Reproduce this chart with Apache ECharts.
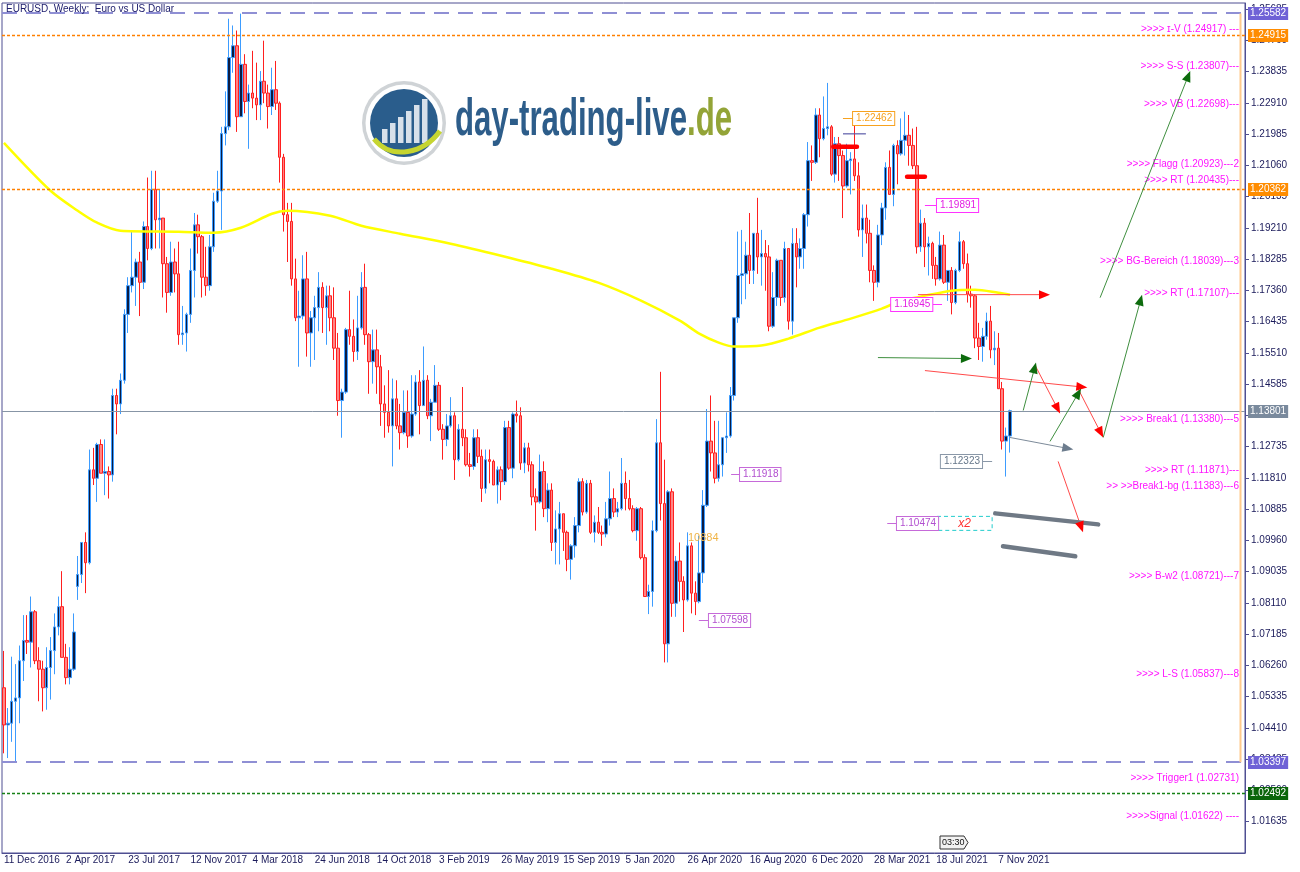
<!DOCTYPE html>
<html><head><meta charset="utf-8">
<script src="https://cdn.jsdelivr.net/npm/echarts/dist/echarts.min.js"></script>
<style>html,body{margin:0;padding:0;background:#fff}#c{width:1300px;height:872px}</style>
</head><body><div id="c"></div>
<script>
// ---------- DATA ----------
const tickLabels = ['11 Dec 2016','2 Apr 2017','23 Jul 2017','12 Nov 2017','4 Mar 2018','24 Jun 2018','14 Oct 2018','3 Feb 2019','26 May 2019','15 Sep 2019','5 Jan 2020','26 Apr 2020','16 Aug 2020','6 Dec 2020','28 Mar 2021','18 Jul 2021','7 Nov 2021'];
// weekly candles [open, high, low, close]
const candles2016 = [
[1.0560,1.0669,1.0366,1.0450],[1.0450,1.0500,1.0352,1.0455],[1.0455,1.0652,1.0400,1.0520]];
const candles2017 = [
[1.0520,1.0630,1.0340,1.0530],[1.0530,1.0685,1.0455,1.0640],[1.0640,1.0775,1.0580,1.0700],[1.0700,1.0775,1.0660,1.0695],[1.0695,1.0830,1.0620,1.0785],
[1.0785,1.0790,1.0630,1.0640],[1.0640,1.0680,1.0520,1.0615],[1.0615,1.0640,1.0490,1.0560],[1.0560,1.0680,1.0495,1.0620],
[1.0620,1.0710,1.0525,1.0670],[1.0670,1.0780,1.0600,1.0740],[1.0740,1.0830,1.0715,1.0800],[1.0800,1.0905,1.0650,1.0650],
[1.0650,1.0690,1.0570,1.0590],[1.0590,1.0680,1.0570,1.0615],[1.0615,1.0780,1.0610,1.0725],[1.0860,1.0950,1.0820,1.0895],[1.0895,1.0990,1.0870,1.0990],
[1.0990,1.1020,1.0840,1.0930],[1.0930,1.1265,1.0925,1.1205],[1.1205,1.1270,1.1160,1.1180],[1.1180,1.1285,1.1110,1.1280],
[1.1280,1.1295,1.1195,1.1195],[1.1195,1.1295,1.1130,1.1200],[1.1200,1.1215,1.1120,1.1190],[1.1190,1.1445,1.1170,1.1425],
[1.1425,1.1445,1.1310,1.1400],[1.1400,1.1490,1.1370,1.1470],[1.1470,1.1680,1.1460,1.1665],[1.1665,1.1775,1.1610,1.1750],[1.1750,1.1910,1.1730,1.1775],
[1.1775,1.1830,1.1690,1.1820],[1.1820,1.1850,1.1660,1.1760],[1.1760,1.1940,1.1740,1.1925],[1.1925,1.2070,1.1825,1.1860],
[1.1860,1.2090,1.1855,1.2035],[1.2035,1.2090,1.1860,1.1945],[1.1945,1.2035,1.1860,1.1950],[1.1950,1.1950,1.1715,1.1815],
[1.1815,1.1835,1.1670,1.1730],[1.1730,1.1880,1.1720,1.1820],[1.1820,1.1860,1.1730,1.1785],[1.1785,1.1880,1.1575,1.1605],[1.1605,1.1690,1.1575,1.1610],
[1.1610,1.1670,1.1555,1.1665],[1.1665,1.1860,1.1640,1.1795],[1.1795,1.1965,1.1715,1.1930],[1.1930,1.1960,1.1845,1.1895],
[1.1895,1.1900,1.1715,1.1775],[1.1775,1.1865,1.1720,1.1750],[1.1750,1.1900,1.1735,1.1865],[1.1865,1.2025,1.1850,1.2000]];
const candles2018 = [
[1.2000,1.2090,1.1995,1.2030],[1.2030,1.2220,1.1915,1.2200],[1.2200,1.2325,1.2165,1.2220],[1.2220,1.2540,1.2210,1.2425],[1.2425,1.2520,1.2380,1.2460],
[1.2460,1.2505,1.2205,1.2250],[1.2250,1.2555,1.2250,1.2405],[1.2405,1.2435,1.2260,1.2295],[1.2295,1.2345,1.2155,1.2320],
[1.2320,1.2445,1.2275,1.2305],[1.2305,1.2410,1.2240,1.2285],[1.2285,1.2385,1.2240,1.2355],[1.2355,1.2475,1.2290,1.2320],
[1.2320,1.2345,1.2215,1.2280],[1.2280,1.2395,1.2255,1.2330],[1.2330,1.2415,1.2270,1.2290],[1.2290,1.2295,1.2055,1.2130],[1.2130,1.2140,1.1910,1.1960],
[1.1960,1.1995,1.1820,1.1940],[1.1940,1.1995,1.1750,1.1770],[1.1770,1.1830,1.1645,1.1655],[1.1655,1.1735,1.1510,1.1660],
[1.1660,1.1840,1.1650,1.1770],[1.1770,1.1850,1.1540,1.1610],[1.1610,1.1675,1.1510,1.1655],[1.1655,1.1720,1.1530,1.1685],
[1.1685,1.1790,1.1615,1.1745],[1.1745,1.1760,1.1610,1.1685],[1.1685,1.1750,1.1575,1.1720],[1.1720,1.1750,1.1615,1.1655],[1.1655,1.1745,1.1530,1.1565],
[1.1565,1.1610,1.1365,1.1410],[1.1410,1.1445,1.1300,1.1435],[1.1435,1.1625,1.1430,1.1620],[1.1620,1.1735,1.1575,1.1600],
[1.1600,1.1650,1.1525,1.1555],[1.1555,1.1720,1.1530,1.1625],[1.1625,1.1790,1.1620,1.1745],[1.1745,1.1815,1.1575,1.1605],
[1.1605,1.1610,1.1430,1.1525],[1.1525,1.1620,1.1460,1.1560],[1.1560,1.1620,1.1430,1.1510],[1.1510,1.1545,1.1335,1.1400],[1.1400,1.1455,1.1300,1.1375],
[1.1375,1.1500,1.1315,1.1335],[1.1335,1.1475,1.1215,1.1415],[1.1415,1.1470,1.1325,1.1335],[1.1335,1.1400,1.1265,1.1315],
[1.1315,1.1440,1.1310,1.1375],[1.1375,1.1440,1.1270,1.1305],[1.1305,1.1485,1.1300,1.1370],[1.1370,1.1485,1.1365,1.1465]];
const candles2019 = [
[1.1465,1.1500,1.1310,1.1395],[1.1395,1.1570,1.1395,1.1470],[1.1470,1.1485,1.1355,1.1365],[1.1365,1.1415,1.1290,1.1405],[1.1405,1.1515,1.1405,1.1455],
[1.1455,1.1465,1.1320,1.1325],[1.1325,1.1340,1.1235,1.1295],[1.1295,1.1370,1.1275,1.1335],[1.1335,1.1420,1.1330,1.1365],
[1.1365,1.1375,1.1175,1.1235],[1.1235,1.1340,1.1230,1.1325],[1.1325,1.1450,1.1275,1.1300],[1.1300,1.1325,1.1215,1.1220],
[1.1220,1.1255,1.1185,1.1215],[1.1215,1.1325,1.1205,1.1300],[1.1300,1.1325,1.1225,1.1245],[1.1245,1.1265,1.1110,1.1150],[1.1150,1.1265,1.1135,1.1235],
[1.1235,1.1265,1.1165,1.1230],[1.1230,1.1235,1.1160,1.1160],[1.1160,1.1215,1.1105,1.1205],[1.1205,1.1215,1.1115,1.1170],
[1.1170,1.1350,1.1160,1.1330],[1.1330,1.1350,1.1205,1.1210],[1.1210,1.1375,1.1180,1.1370],[1.1370,1.1410,1.1345,1.1365],
[1.1365,1.1390,1.1205,1.1225],[1.1225,1.1285,1.1195,1.1270],[1.1270,1.1285,1.1200,1.1220],[1.1220,1.1230,1.1100,1.1125],[1.1125,1.1150,1.1025,1.1110],
[1.1110,1.1250,1.1105,1.1200],[1.1200,1.1230,1.1065,1.1090],[1.1090,1.1165,1.1050,1.1145],[1.1145,1.1165,1.0965,1.0990],
[1.0990,1.1085,1.0925,1.1030],[1.1030,1.1110,1.0925,1.1075],[1.1075,1.1075,1.0965,1.1020],[1.1020,1.1025,1.0905,1.0940],[1.0940,1.0985,1.0880,1.0980],
[1.0980,1.1065,1.0945,1.1040],[1.1040,1.1180,1.1020,1.1170],[1.1170,1.1180,1.1070,1.1080],[1.1080,1.1175,1.1075,1.1165],
[1.1165,1.1175,1.1015,1.1020],[1.1020,1.1070,1.0990,1.1050],[1.1050,1.1095,1.1015,1.1020],[1.1020,1.1040,1.0980,1.1015],
[1.1015,1.1110,1.1005,1.1060],[1.1060,1.1200,1.1040,1.1120],[1.1120,1.1150,1.1065,1.1080],[1.1080,1.1110,1.1065,1.1090],[1.1090,1.1240,1.1085,1.1165]];
const candles2020 = [
[1.1165,1.1200,1.1085,1.1120],[1.1120,1.1175,1.1085,1.1090],[1.1090,1.1100,1.1020,1.1025],[1.1025,1.1095,1.0995,1.1090],
[1.1090,1.1095,1.0940,1.0945],[1.0945,1.0955,1.0830,1.0830],[1.0830,1.0865,1.0778,1.0845],[1.0845,1.1055,1.0800,1.1025],
[1.1025,1.1355,1.1020,1.1285],[1.1285,1.1495,1.1055,1.1105],[1.1105,1.1235,1.0635,1.0690],[1.0690,1.1145,1.0635,1.1140],[1.1140,1.1150,1.0770,1.0810],
[1.0810,1.0950,1.0770,1.0935],[1.0935,1.0990,1.0815,1.0875],[1.0875,1.0890,1.0725,1.0820],[1.0820,1.1020,1.0815,1.0980],
[1.0980,1.0990,1.0780,1.0840],[1.0840,1.0875,1.0775,1.0815],[1.0815,1.1010,1.0810,1.0900],[1.0900,1.1145,1.0870,1.1100],
[1.1100,1.1385,1.1095,1.1290],[1.1290,1.1425,1.1200,1.1255],[1.1255,1.1350,1.1165,1.1180],[1.1180,1.1350,1.1170,1.1220],[1.1220,1.1300,1.1185,1.1300],
[1.1300,1.1375,1.1255,1.1305],[1.1305,1.1450,1.1300,1.1425],[1.1425,1.1655,1.1410,1.1655],[1.1655,1.1910,1.1640,1.1780],
[1.1780,1.1915,1.1695,1.1785],[1.1785,1.1880,1.1710,1.1840],[1.1840,1.1965,1.1755,1.1795],[1.1795,1.1905,1.1755,1.1905],[1.1905,1.2010,1.1785,1.1835],
[1.1835,1.1915,1.1750,1.1845],[1.1845,1.1885,1.1735,1.1835],[1.1835,1.1870,1.1615,1.1630],[1.1630,1.1790,1.1625,1.1715],
[1.1715,1.1830,1.1690,1.1825],[1.1825,1.1825,1.1690,1.1715],[1.1715,1.1880,1.1700,1.1860],[1.1860,1.1860,1.1620,1.1645],
[1.1645,1.1920,1.1605,1.1875],[1.1875,1.1920,1.1745,1.1835],[1.1835,1.1890,1.1800,1.1860],[1.1860,1.1965,1.1800,1.1960],[1.1960,1.2175,1.1925,1.2120],
[1.2120,1.2165,1.2060,1.2115],[1.2115,1.2275,1.2110,1.2255],[1.2255,1.2275,1.2130,1.2185]];
const candles2021 = [
[1.2185,1.2310,1.2180,1.2215],
[1.2215,1.2350,1.2195,1.2220],[1.2220,1.2225,1.2075,1.2080],[1.2080,1.2190,1.2055,1.2170],[1.2170,1.2190,1.2060,1.2135],
[1.2135,1.2150,1.1950,1.2045],[1.2045,1.2170,1.2040,1.2120],[1.2120,1.2145,1.2020,1.2125],[1.2125,1.2245,1.2060,1.2075],
[1.2075,1.2115,1.1895,1.1915],[1.1915,1.1990,1.1835,1.1950],[1.1950,1.1990,1.1875,1.1905],[1.1905,1.1945,1.1760,1.1795],[1.1795,1.1810,1.1705,1.1760],
[1.1760,1.1930,1.1745,1.1900],[1.1900,1.1995,1.1870,1.1980],[1.1980,1.2115,1.1945,1.2100],[1.2100,1.2150,1.2020,1.2020],
[1.2020,1.2170,1.1985,1.2165],[1.2165,1.2180,1.2050,1.2140],[1.2140,1.2245,1.2135,1.2180],[1.2180,1.2265,1.2135,1.2195],[1.2195,1.2255,1.2105,1.2165],
[1.2165,1.2215,1.2095,1.2105],[1.2105,1.2220,1.1845,1.1865],[1.1865,1.1975,1.1850,1.1935],[1.1935,1.1950,1.1805,1.1865],
[1.1865,1.1895,1.1780,1.1875],[1.1875,1.1880,1.1770,1.1810],[1.1810,1.1835,1.1750,1.1770],[1.1770,1.1910,1.1765,1.1870],
[1.1870,1.1900,1.1755,1.1760],[1.1760,1.1795,1.1705,1.1795],[1.1795,1.1805,1.1665,1.1700],[1.1700,1.1800,1.1695,1.1795],[1.1795,1.1910,1.1790,1.1880],
[1.1880,1.1885,1.1800,1.1815],[1.1815,1.1845,1.1700,1.1725],[1.1725,1.1750,1.1685,1.1720],[1.1720,1.1725,1.1565,1.1595],
[1.1595,1.1640,1.1530,1.1570],[1.1570,1.1625,1.1525,1.1600],[1.1600,1.1670,1.1590,1.1645],[1.1645,1.1690,1.1535,1.1560],
[1.1560,1.1615,1.1515,1.1565],[1.1565,1.1610,1.1445,1.1445],[1.1445,1.1465,1.1265,1.1290],[1.1290,1.1330,1.1185,1.1305],[1.1305,1.1383,1.1256,1.13801]];
// yellow moving average: [week index, value]
const maPoints = [[0,1.21727],[12,1.20308],[19,1.19717],[24,1.19362],[30,1.19126],[45,1.19096],[54,1.19067],[61,1.19214],[69,1.19628],[73,1.19717],[84,1.19569],
[92,1.19273],[102,1.19037],[115,1.18741],[128,1.18387],[141,1.18002],[153,1.17589],[164,1.17057],[174,1.16465],[179,1.16081],[184,1.15815],[188,1.15697],
[195,1.15727],[202,1.15933],[210,1.16259],[218,1.16525],[226,1.16820],[231,1.17057],[236,1.17175],[244,1.17352],[250,1.17382],[256,1.17293],[259,1.17234]];
// horizontal levels with price boxes on the axis
const axisLevels = [1.25582, 1.24915, 1.20362, 1.13801, 1.03397, 1.02492];
const axisLevelKinds = ['range','alert','alert','bid','range','signal'];
// magenta level notes [price, text]
const levelNotes = [
 [1.24917,'>>>> ɪ-V (1.24917) ---'],[1.23807,'>>>> S-S (1.23807)---'],[1.22698,'>>>> VB (1.22698)---'],
 [1.20923,'>>>> Flagg (1.20923)---2'],[1.20435,'>>>> RT (1.20435)---'],[1.18039,'>>>> BG-Bereich (1.18039)---3'],
 [1.17107,'>>>> RT (1.17107)---'],[1.13380,'>>>> Break1 (1.13380)---5'],[1.11871,'>>>> RT (1.11871)---'],
 [1.11383,'>> >>Break1-bg (1.11383)---6'],[1.08721,'>>>> B-w2 (1.08721)---7'],[1.05837,'>>>> L-S (1.05837)---8'],
 [1.02731,'>>>> Trigger1 (1.02731)'],[1.01622,'>>>>Signal (1.01622) ----']];
// drawn arrows [week1, price1, week2, price2, kind]
const arrows = [
 [225.0,1.15372,249.2,1.15342,'green'],[235.3,1.17234,269.3,1.17234,'red'],[237.1,1.14987,278.9,1.14485,'red'],
 [265.5,1.15135,271.9,1.13716,'red'],[262.4,1.13805,265.7,1.15224,'green'],[269.3,1.12889,277.3,1.14455,'green'],
 [276.5,1.14455,283.0,1.13007,'red'],[283.0,1.13007,293.0,1.17234,'green'],[282.2,1.17145,305.4,1.23855,'green'],
 [259.0,1.13007,275.3,1.12652,'gray'],[271.4,1.12298,277.8,1.10199,'red']];
// drawn segments [week1, price1, week2, price2, kind]
const segments = [
 [255.2,1.10761,281.7,1.10435,'grayThick'],[257.2,1.09785,275.8,1.09490,'grayThick'],
 [213.5,1.21609,219.6,1.21609,'redThick'],[232.5,1.20722,237.1,1.20722,'redThick'],[216.0,1.21993,221.9,1.21993,'navy']];
// price tags [price, leader start week, box edge week, kind]
const priceTags = [
 [1.22462,216.0,218.6,'orange'],[1.19891,237.1,240.2,'magenta'],[1.16945,241.5,239.0,'magenta'],
 [1.12323,254.4,251.8,'gray'],[1.10474,227.4,229.9,'purple'],[1.11918,187.2,189.5,'purple'],[1.07598,178.9,181.5,'purple']];
const x2Box = [240.2,1.10672,254.4,1.10258];
const sideNote = [176.1,1.10022,'10884'];

// ---------- CHART ----------
const chart = echarts.init(document.getElementById('c'));
const candles = [].concat(candles2016,candles2017,candles2018,candles2019,candles2020,candles2021);
const N = 320;
const cats = Array.from({length:N},(_,i)=>String(i));
const tickShown = (idx) => idx % 16 === 0 && idx/16 < tickLabels.length;
const FONT = '"Liberation Sans", Arial, sans-serif';
const axisColor = '#4f4f92';
const levelStyle = {
  range:{stroke:'#8f8fd4',dash:[15,9],width:2, box:'#6f62d6'},
  alert:{stroke:'#ff8000',dash:[3,2],width:1.5, box:'#ff8c00'},
  bid:{stroke:'#8795a6',dash:null,width:1, box:'#7a8a9d'},
  signal:{stroke:'#168016',dash:[3,2],width:1.5, box:'#0b650b'}
};
const GL = 2, GR = 55, GT = 3, GB = 19;

chart.setOption({
  animation:false,
  backgroundColor:'#ffffff',
  grid:{left:GL,right:GR,top:GT,bottom:GB,show:true,borderColor:axisColor,borderWidth:1},
  xAxis:{type:'category',data:cats,boundaryGap:true,
    axisLine:{lineStyle:{color:axisColor}},
    axisTick:{alignWithLabel:true,interval:tickShown,length:4,lineStyle:{color:axisColor}},
    axisLabel:{interval:tickShown,formatter:(v,i)=>tickLabels[i/16]||'',align:'left',color:'#1a1a5a',fontSize:10,fontFamily:FONT,margin:2},
    splitLine:{show:false}},
  yAxis:{type:'value',position:'right',min:1.00710,max:1.25865,interval:0.00925,
    axisLine:{show:true,lineStyle:{color:axisColor}},
    axisTick:{show:true,length:4,lineStyle:{color:axisColor}},
    axisLabel:{formatter:v=>v.toFixed(5),color:'#1a1a5a',fontSize:10,fontFamily:FONT,margin:6,showMinLabel:false,showMaxLabel:false},
    splitLine:{show:false}},
  series:[
    {type:'candlestick',name:'EURUSD',barWidth:3,z:2,
     data:candles.map(c=>[c[0],c[3],c[2],c[1]]),
     itemStyle:{color:'#0c1c42',color0:'#ff8585',borderColor:'#3d9cff',borderColor0:'#ff1f1f',borderWidth:1},
     emphasis:{disabled:true}},
    {type:'line',name:'MA',data:maPoints,symbol:'none',smooth:0.3,z:3,lineStyle:{color:'#ffff00',width:2.5},silent:true}
  ]
});

// ---------- ANNOTATIONS (through the chart's own scales) ----------
const x0 = chart.convertToPixel({xAxisIndex:0},0);
const x1 = chart.convertToPixel({xAxisIndex:0},1);
const X = i => x0 + i*(x1-x0);
const Y = p => chart.convertToPixel({yAxisIndex:0},p);
const els = [];
// level lines + price boxes on the axis
const plotRight = 1300 - GR;
axisLevels.forEach((v,k)=>{
  const s = levelStyle[axisLevelKinds[k]];
  const yr = Math.round(Y(v));
  const y = (s.width === 2) ? yr : yr + 0.5;
  els.push({type:'line',z:20,shape:{x1:GL,y1:y,x2:plotRight,y2:y},style:{stroke:s.stroke,lineWidth:s.width,lineDash:s.dash}});
  els.push({type:'text',z:90,x:plotRight+3,y:yr+0.5,style:{text:v.toFixed(5),fill:'#ffffff',font:'10px '+FONT,align:'left',verticalAlign:'middle',
    backgroundColor:s.box,padding:[2,2,1,2]}});
});
const arrowColors = {green:['#3f8f3f','#0d6b0d'],red:['#ff4a4a','#ff0000'],gray:['#7d8b9a','#6d7d8e']};
arrows.forEach(a=>{
  const [i1,p1,i2,p2,k]=a; const c=arrowColors[k];
  const xa=X(i1),ya=Y(p1),xb=X(i2),yb=Y(p2);
  const dx=xb-xa,dy=yb-ya,L=Math.hypot(dx,dy),ux=dx/L,uy=dy/L,hl=11,hw=4.5;
  els.push({type:'line',z:60,shape:{x1:xa,y1:ya,x2:xb-ux*hl*0.7,y2:yb-uy*hl*0.7},style:{stroke:c[0],lineWidth:1}});
  els.push({type:'polygon',z:61,shape:{points:[[xb,yb],[xb-ux*hl+uy*hw,yb-uy*hl-ux*hw],[xb-ux*hl-uy*hw,yb-uy*hl+ux*hw]]},style:{fill:c[1]}});
});
const segStyle = {grayThick:{stroke:'#6f7985',lineWidth:4.5,lineCap:'round'},redThick:{stroke:'#ff0000',lineWidth:4.5,lineCap:'round'},navy:{stroke:'#5a5aa8',lineWidth:1.2}};
segments.forEach(s=>{
  els.push({type:'line',z:60,shape:{x1:X(s[0]),y1:Y(s[1]),x2:X(s[2]),y2:Y(s[3])},style:segStyle[s[4]]});
});
const tagStyle = {orange:['#f7a21f','#f7a21f'],magenta:['#e21ee2','#ff33ff'],gray:['#66778a','#8a98a8'],purple:['#b14fcf','#c66ad9']};
priceTags.forEach(t=>{
  const [p,iFrom,iEdge,k]=t; const c=tagStyle[k];
  const y=Math.round(Y(p))+0.5, xa=X(iFrom), xe=X(iEdge), right=iFrom<iEdge;
  els.push({type:'line',z:62,shape:{x1:xa,y1:y,x2:xe,y2:y},style:{stroke:c[1],lineWidth:1}});
  els.push({type:'text',z:63,x:xe,y:y,style:{text:p.toFixed(5),fill:c[0],font:'10px '+FONT,align:right?'left':'right',verticalAlign:'middle',
    backgroundColor:'#ffffff',borderColor:c[1],borderWidth:1,padding:[2,2,1,3]}});
});
// x2 box
els.push({type:'rect',z:62,shape:{x:X(x2Box[0]),y:Y(x2Box[1]),width:X(x2Box[2])-X(x2Box[0]),height:Y(x2Box[3])-Y(x2Box[1])},
  style:{fill:'#ffffff',stroke:'#22cccc',lineWidth:1,lineDash:[4,3]}});
els.push({type:'text',z:63,x:(X(x2Box[0])+X(x2Box[2]))/2,y:(Y(x2Box[1])+Y(x2Box[3]))/2,
  style:{text:'x2',fill:'#ff3030',font:'italic 12px '+FONT,align:'center',verticalAlign:'middle'}});
els.push({type:'text',z:63,x:X(sideNote[0]),y:Y(sideNote[1]),style:{text:sideNote[2],fill:'#f0b446',font:'11px '+FONT,align:'left',verticalAlign:'middle'}});
// magenta notes
levelNotes.forEach(n=>{
  els.push({type:'text',z:55,x:1239,y:Y(n[0])-1,style:{text:n[1],fill:'#ff14ff',font:'10px '+FONT,align:'right',verticalAlign:'bottom'}});
});
// orange vertical marker line
els.push({type:'line',z:50,shape:{x1:1240.5,y1:Y(axisLevels[0])+1,x2:1240.5,y2:Y(axisLevels[4])},style:{stroke:'#ffc98c',lineWidth:2}});
// title
els.push({type:'text',z:70,x:6,y:9,style:{text:'EURUSD, Weekly:  Euro vs US Dollar',fill:'#1b1b6b',font:'10px '+FONT,align:'left',verticalAlign:'middle'}});
// 03:30 bar timer
els.push({type:'group',z:70,x:940,y:836,children:[
  {type:'polygon',shape:{points:[[0,0],[24,0],[28,6.5],[24,13],[0,13]]},style:{fill:'#f2f2f2',stroke:'#333333',lineWidth:1}},
  {type:'text',x:2,y:7,style:{text:'03:30',fill:'#111111',font:'9px '+FONT,align:'left',verticalAlign:'middle'}}]});
// logo
const ctx = document.createElement('canvas').getContext('2d');
const logoFont = 'bold 52px "Liberation Sans", Arial, sans-serif';
ctx.font = logoFont;
const wA = ctx.measureText('day-trading-live').width, wB = ctx.measureText('.de').width;
const sx = 277/(wA+wB);
const bars = [[0,14],[1,20],[2,26],[3,32],[4,38],[5,44]];
els.push({type:'group',z:40,x:362,y:81,children:[
  {type:'circle',shape:{cx:42,cy:42,r:42},style:{fill:'#cfd3d6'}},
  {type:'circle',shape:{cx:42,cy:42,r:38.5},style:{fill:'#ffffff'}},
  {type:'circle',shape:{cx:42,cy:42,r:34},style:{fill:'#2a5d8c'}}
].concat(bars.map(b=>({type:'rect',shape:{x:20+b[0]*8,y:62-b[1],width:5.5,height:b[1]},style:{fill:'#d7e0ea'}})))
 .concat([{type:'bezierCurve',shape:{x1:12,y1:58,x2:78,y2:50,cpx1:30,cpy1:80,cpx2:62,cpy2:72},style:{stroke:'#c6d530',lineWidth:5,fill:null}}])});
els.push({type:'text',z:40,x:455,y:121,scaleX:sx,style:{text:'day-trading-live',fill:'#2d5d8a',font:logoFont,align:'left',verticalAlign:'middle'}});
els.push({type:'text',z:40,x:455+wA*sx,y:121,scaleX:sx,style:{text:'.de',fill:'#93a437',font:logoFont,align:'left',verticalAlign:'middle'}});

chart.setOption({graphic:{elements:els}});
</script></body></html>
